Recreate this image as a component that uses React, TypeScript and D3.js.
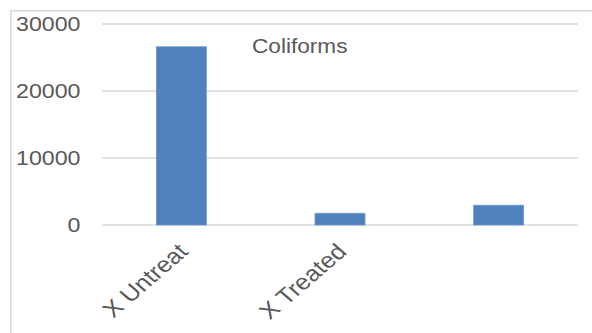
import React from "react";
import * as d3 from "d3";

const categories = ["X Untreat", "X Treated", ""];
const values = [26600, 1750, 2950];
const yTicks = [0, 10000, 20000, 30000];
const title = "Coliforms";

const W = 592;
const H = 333;
const SX = 1.16;
const FONT = "'Liberation Sans', Arial, sans-serif";
const TEXT = "#595959";

export default function App() {
  const x = d3
    .scaleBand<string>()
    .domain(categories)
    .range([102, 578])
    .paddingInner(0.685)
    .paddingOuter(0.3425);
  const y = d3.scaleLinear().domain([0, 30000]).range([225, 24]);

  return (
    <svg
      width={W}
      height={H}
      style={{ position: "absolute", left: 0, top: 0, background: "#fff" }}
    >
      <rect x={0} y={0} width={W} height={H} fill="#fff" />
      {/* chart frame */}
      <line x1={10.5} y1={10.75} x2={W} y2={10.75} stroke="#d9d9d9" strokeWidth={1.5} />
      <line x1={10.75} y1={10.5} x2={10.75} y2={H} stroke="#d9d9d9" strokeWidth={1.5} />

      {/* gridlines */}
      {yTicks.map((t) => (
        <line
          key={"g" + t}
          x1={102}
          x2={578}
          y1={y(t)}
          y2={y(t)}
          stroke="#d9d9d9"
          strokeWidth={1.5}
        />
      ))}

      {/* y tick labels */}
      {yTicks.map((t) => (
        <text
          key={"t" + t}
          transform={`translate(80.5,${y(t) + 7}) scale(${SX},1)`}
          textAnchor="end"
          fontFamily={FONT}
          fontSize={20}
          fill={TEXT}
        >
          {t}
        </text>
      ))}

      {/* bars */}
      {categories.map((c, i) => (
        <rect
          key={"b" + i}
          x={x(c)!}
          y={y(values[i])}
          width={x.bandwidth()}
          height={y(0) - y(values[i])}
          fill="#4f81bd"
          stroke="#6f96c8"
          strokeWidth={0.8}
        />
      ))}

      {/* x labels */}
      {categories.map((c, i) => (
        <text
          key={"l" + i}
          transform={`translate(${x(c)! + x.bandwidth() / 2 + 8},253) scale(${SX},1) rotate(-45)`}
          textAnchor="end"
          fontFamily={FONT}
          fontSize={22}
          fill={TEXT}
        >
          {c}
        </text>
      ))}

      {/* title */}
      <text
        transform={`translate(252,52.5) scale(${SX},1)`}
        fontFamily={FONT}
        fontSize={19.5}
        fill={TEXT}
      >
        {title}
      </text>
    </svg>
  );
}
